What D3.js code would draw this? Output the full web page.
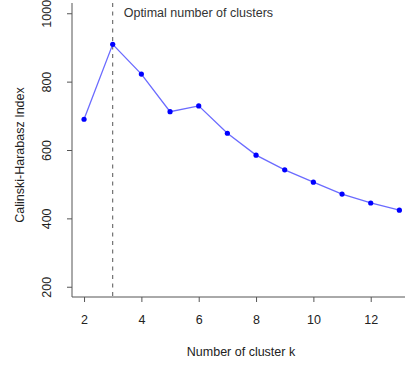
<!DOCTYPE html>
<html><head><meta charset="utf-8">
<script src="https://cdn.jsdelivr.net/npm/d3@7"></script>
<style>body{margin:0;background:#fff}svg{display:block}text{font-family:"Liberation Sans",Arial,sans-serif}</style>
</head><body>
<script>
const clusters = [2,3,4,5,6,7,8,9,10,11,12,13];
const chIndex = [690,909,822,712,729,649,585,542,506,471,445,424];
const xTicks = [2,4,6,8,10,12];
const yTicks = [200,400,600,800,1000];
const optimalK = 3;

const W = 405, H = 365;
const svg = d3.select("body").append("svg").attr("width", W).attr("height", H);
const x = d3.scaleLinear().domain([1.58, 13.44]).range([72, 412]);
const y = d3.scaleLinear().domain([170, 1030]).range([297, 3]);
const axisCol = "#555";

// axes lines (L box)
svg.append("line").attr("x1",72).attr("x2",72).attr("y1",y(1030)).attr("y2",y(170)).attr("stroke",axisCol).attr("stroke-width",1);
svg.append("line").attr("x1",72).attr("x2",W).attr("y1",297).attr("y2",297).attr("stroke",axisCol).attr("stroke-width",1);

const xAxis = svg.append("g").attr("transform","translate(0,297)")
  .call(d3.axisBottom(x).tickValues(xTicks).tickSize(5).tickPadding(13).tickFormat(d3.format("d")));
xAxis.select(".domain").remove();
xAxis.selectAll("line").attr("stroke",axisCol);
xAxis.selectAll("text").attr("fill","#222").style("font-size","12.5px").style("font-family","Liberation Sans, Arial, sans-serif");

const yAxis = svg.append("g").attr("transform","translate(72,0)")
  .call(d3.axisLeft(y).tickValues(yTicks).tickSize(5).tickFormat(d3.format("d")));
yAxis.select(".domain").remove();
yAxis.selectAll("line").attr("stroke",axisCol);
yAxis.selectAll("text").attr("fill","#222").style("font-size","12.5px").style("font-family","Liberation Sans, Arial, sans-serif")
  .attr("text-anchor","middle").attr("x",0).attr("dy",0)
  .attr("transform","translate(-24,0) rotate(-90)").attr("dominant-baseline","middle");

// dashed optimal line
svg.append("line").attr("x1",x(optimalK)).attr("x2",x(optimalK)).attr("y1",y(1030)).attr("y2",297)
  .attr("stroke","#555").attr("stroke-width",1).attr("stroke-dasharray","4,4.5");
svg.append("text").attr("x",x(optimalK)+11).attr("y",17).attr("fill","#333").style("font-size","12.5px").text("Optimal number of clusters");

// line + points
const pts = clusters.map((k,i)=>[k,chIndex[i]]);
svg.append("path").datum(pts).attr("fill","none").attr("stroke","#6b6bff").attr("stroke-width",1.3)
  .attr("d", d3.line().x(d=>x(d[0])).y(d=>y(d[1])));
svg.selectAll("circle.p").data(pts).enter().append("circle").attr("class","p")
  .attr("cx",d=>x(d[0])).attr("cy",d=>y(d[1])).attr("r",2.6).attr("fill","#0000ff");

// titles
svg.append("text").attr("x",241).attr("y",356).attr("text-anchor","middle").attr("fill","#222").style("font-size","12.5px").text("Number of cluster k");
svg.append("text").attr("transform","translate(24,155) rotate(-90)").attr("text-anchor","middle").attr("fill","#222").style("font-size","12.5px").text("Calinski-Harabasz Index");
</script>
</body></html>
